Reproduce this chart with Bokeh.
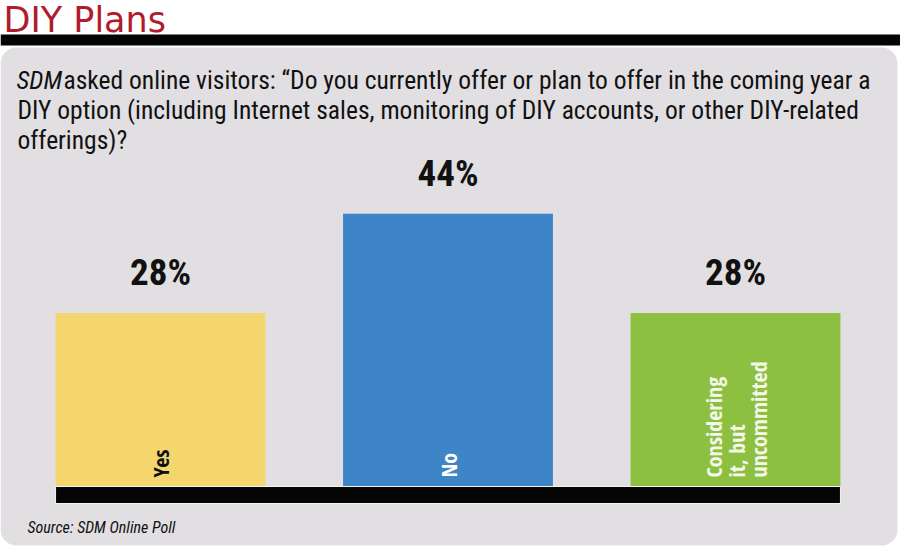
from bokeh.plotting import figure
from bokeh.models import ColumnDataSource, Range1d, BoxAnnotation, Label
from bokeh.core.properties import value
from bokeh.embed import file_html
from bokeh.resources import INLINE
import math

# ---- data ----
categories = ["Yes", "No", "Considering\nit, but\nuncommitted"]
percents = [28, 44, 28]
pct_labels = ["28%", "44%", "28%"]
bar_colors = ["#f5d56e", "#3d85c6", "#8dc040"]
label_colors = ["#111111", "#ffffff", "#f4f8ea"]

title_text = "DIY Plans"
subtitle_lines = [
    "asked online visitors: \u201cDo you currently offer or plan to offer in the coming year a",
    "DIY option (including Internet sales, monitoring of DIY accounts, or other DIY-related",
    "offerings)?",
]
source_text = "Source: SDM Online Poll"

F_SUB = "Roboto Condensed"
F_PCT = "Roboto Condensed"
F_CAT = "Open Sans Condensed"
F_SRC = "Roboto Condensed"

xs = list(range(len(categories)))
src = ColumnDataSource(dict(x=xs, top=percents, color=bar_colors,
                            cat=categories, lab=pct_labels, lcol=label_colors,
                            zero=[0] * len(xs)))

p = figure(width=900, height=550, output_backend="svg", toolbar_location=None,
           x_range=Range1d(0, 900), y_range=Range1d(550, 0),
           x_axis_location=None, y_axis_location=None, min_border=0,
           background_fill_color="white", border_fill_color="white",
           outline_line_color=None)
p.grid.visible = False

p.extra_x_ranges = {"cat": Range1d(-0.5565, 2.5739)}
p.extra_y_ranges = {"pct": Range1d(-10.32, 78.39)}

p.add_layout(BoxAnnotation(left=0, right=897, top=47, bottom=545,
                           fill_color="#e1dfe2", fill_alpha=1, line_color=None,
                           border_radius=16, level="underlay"))
p.add_layout(BoxAnnotation(left=0, right=900, top=34, bottom=45,
                           fill_color="#050505", fill_alpha=1, line_color=None,
                           level="underlay"))

bw = 0.73
p.vbar(x="x", top="top", bottom=0, width=bw, color="color", line_color=None,
       source=src, x_range_name="cat", y_range_name="pct")
p.quad(left=[xs[0] - bw / 2], right=[xs[-1] + bw / 2], top=[0], bottom=[-2.74],
       fill_color="#050505", line_color="#f4f4f4", line_width=1,
       x_range_name="cat", y_range_name="pct")

p.text(x="x", y="top", text="lab", source=src, x_range_name="cat", y_range_name="pct",
       text_font=value(F_PCT), text_font_style="bold", text_font_size="37px",
       text_align="center", text_baseline="bottom", y_offset=-19, text_color="#111111")

p.text(x="x", y="zero", text="cat", source=src, x_range_name="cat", y_range_name="pct",
       angle=math.pi / 2, text_font=value(F_CAT), text_font_style="bold",
       text_font_size="22px", text_align="left", text_baseline="middle",
       y_offset=-9, text_color="lcol", text_line_height=0.75)

p.add_layout(Label(x=3, y=19, text=title_text, text_font="DejaVu Sans",
                   text_font_size="35px", text_color="#b01c2e", text_baseline="middle"))
p.add_layout(Label(x=16, y=79, text="SDM", text_font=F_SUB, text_font_style="italic",
                   text_font_size="25.5px", text_color="#111111", text_baseline="middle"))
p.add_layout(Label(x=63, y=79, text=subtitle_lines[0], text_font=F_SUB,
                   text_font_size="25.5px", text_color="#111111", text_baseline="middle"))
p.add_layout(Label(x=17, y=109, text=subtitle_lines[1], text_font=F_SUB,
                   text_font_size="25.5px", text_color="#111111", text_baseline="middle"))
p.add_layout(Label(x=17, y=139, text=subtitle_lines[2], text_font=F_SUB,
                   text_font_size="25.5px", text_color="#111111", text_baseline="middle"))
p.add_layout(Label(x=27, y=527, text=source_text, text_font=F_SRC, text_font_style="italic",
                   text_font_size="16px", text_color="#111111", text_baseline="middle"))

open("out.html", "w").write(file_html(p, INLINE))
